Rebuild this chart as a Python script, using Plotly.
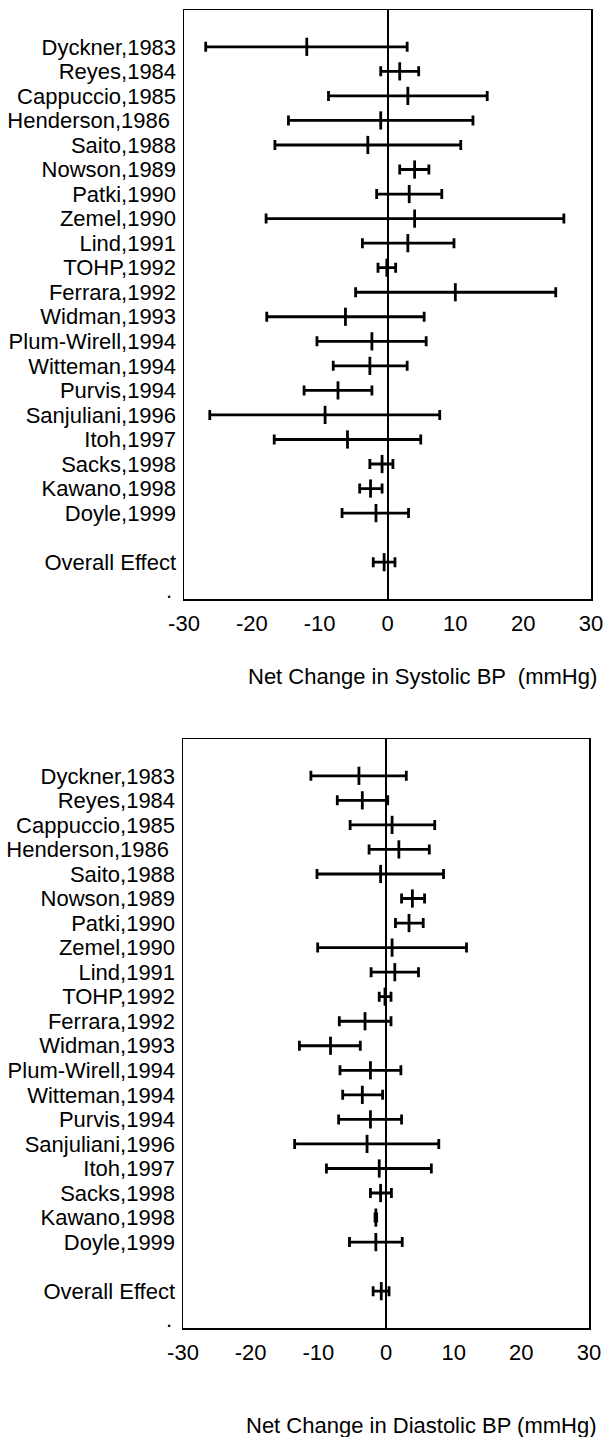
import plotly.graph_objects as go

# ---------------- data ----------------
studies = ["Dyckner,1983", "Reyes,1984", "Cappuccio,1985", "Henderson,1986\u00a0",
           "Saito,1988", "Nowson,1989", "Patki,1990", "Zemel,1990", "Lind,1991",
           "TOHP,1992", "Ferrara,1992", "Widman,1993", "Plum-Wirell,1994",
           "Witteman,1994", "Purvis,1994", "Sanjuliani,1996", "Itoh,1997",
           "Sacks,1998", "Kawano,1998", "Doyle,1999", "Overall Effect"]
row_pos = [0, 1, 2, 3, 4, 5, 6, 7, 8, 9, 10, 11, 12, 13, 14, 15, 16, 17, 18, 19, 21]

sbp_mean = [-11.9, 1.8, 3.0, -1.0, -2.9, 4.0, 3.2, 4.0, 3.0, -0.1, 10.0, -6.2, -2.3,
            -2.6, -7.3, -9.2, -5.9, -0.8, -2.5, -1.7, -0.5]
sbp_lo = [-26.8, -1.0, -8.7, -14.6, -16.6, 1.8, -1.6, -17.9, -3.7, -1.4, -4.7, -17.8,
          -10.4, -8.0, -12.3, -26.2, -16.7, -2.6, -4.1, -6.7, -2.1]
sbp_hi = [2.9, 4.6, 14.7, 12.6, 10.8, 6.1, 8.0, 26.0, 9.8, 1.2, 24.8, 5.4, 5.7, 2.9,
          -2.3, 7.7, 4.9, 0.8, -0.8, 3.1, 1.1]

dbp_mean = [-4.0, -3.5, 0.9, 1.9, -0.8, 3.9, 3.4, 0.9, 1.3, -0.15, -3.1, -8.2, -2.3,
            -3.5, -2.3, -2.8, -1.0, -0.8, -1.5, -1.5, -0.7]
dbp_lo = [-11.1, -7.2, -5.3, -2.5, -10.2, 2.3, 1.4, -10.1, -2.2, -1.0, -6.9, -12.8,
          -6.8, -6.4, -7.0, -13.5, -8.8, -2.3, -1.62, -5.4, -1.9]
dbp_hi = [3.0, 0.25, 7.2, 6.4, 8.5, 5.7, 5.5, 11.9, 4.8, 0.74, 0.74, -3.8, 2.2, -0.5,
          2.3, 7.8, 6.7, 0.8, -1.38, 2.4, 0.45]

x_ticks = [-30, -20, -10, 0, 10, 20, 30]
titles = ["Net Change in Systolic BP \u00a0(mmHg)", "Net Change in Diastolic BP (mmHg)"]

# ---------------- layout geometry (pixels) ----------------
W, H = 605, 1437
FONT = "Liberation Sans, Arial, sans-serif"


def px_dom(a, b):
    return [a / W, b / W]


def py_dom(top, bottom):
    return [1 - bottom / H, 1 - top / H]


def px(x):
    return x / W


def py(y):
    return 1 - y / H


panels = [
    dict(x=(184, 591), y=(10, 599), mean=sbp_mean, lo=sbp_lo, hi=sbp_hi,
         title_y=677, dot_y=597),
    dict(x=(183, 589), y=(739, 1328), mean=dbp_mean, lo=dbp_lo, hi=dbp_hi,
         title_y=1425, dot_y=1326),
]

fig = go.Figure()
annotations = []
for i, p in enumerate(panels):
    sfx = "" if i == 0 else str(i + 1)
    plus = [h - m for h, m in zip(p["hi"], p["mean"])]
    minus = [m - l for m, l in zip(p["mean"], p["lo"])]
    fig.add_trace(go.Scatter(
        x=p["mean"], y=row_pos, mode="markers",
        xaxis="x" + sfx, yaxis="y" + sfx,
        marker=dict(symbol="line-ns", size=13, color="black",
                    line=dict(color="black", width=2.8)),
        error_x=dict(type="data", symmetric=False, array=plus, arrayminus=minus,
                     color="black", thickness=2.8, width=5),
        showlegend=False, hoverinfo="skip",
    ))
    fig.layout["xaxis" + sfx] = dict(
        domain=px_dom(*p["x"]), anchor="y" + sfx,
        range=[-30, 30], tickvals=x_ticks, ticktext=[str(t) for t in x_ticks],
        showgrid=False, zeroline=True, zerolinecolor="black", zerolinewidth=2,
        showline=True, mirror=True, linecolor="black", linewidth=1.5,
        ticks="", ticklabelstandoff=4, automargin=False,
        tickfont=dict(family=FONT, size=22, color="black"),
    )
    fig.layout["yaxis" + sfx] = dict(
        domain=py_dom(*p["y"]), anchor="x" + sfx,
        range=[22.5, -1.5], tickvals=row_pos, ticktext=studies,
        showgrid=False, zeroline=False,
        showline=True, mirror=True, linecolor="black", linewidth=1.5,
        ticks="", ticklabelstandoff=2, automargin=False,
        tickfont=dict(family=FONT, size=22, color="black"),
    )
    annotations.append(dict(
        text=titles[i], xref="paper", yref="paper",
        x=px(599), y=py(p["title_y"]), xanchor="right", yanchor="middle",
        showarrow=False, font=dict(family=FONT, size=22, color="black"),
    ))
    annotations.append(dict(
        text=".", xref="paper", yref="paper",
        x=px(169), y=py(p["dot_y"] - 7), xanchor="center", yanchor="middle",
        showarrow=False, font=dict(family=FONT, size=22, color="black"),
    ))

fig.update_layout(
    width=W, height=H, margin=dict(l=0, r=0, t=0, b=0),
    paper_bgcolor="white", plot_bgcolor="white",
    annotations=annotations, template="none",
)

fig.write_html(
    "out.html",
    config={"displayModeBar": False, "staticPlot": True},
    post_script="document.body.style.margin='0px';"
                "document.documentElement.style.overflow='hidden';",
)
